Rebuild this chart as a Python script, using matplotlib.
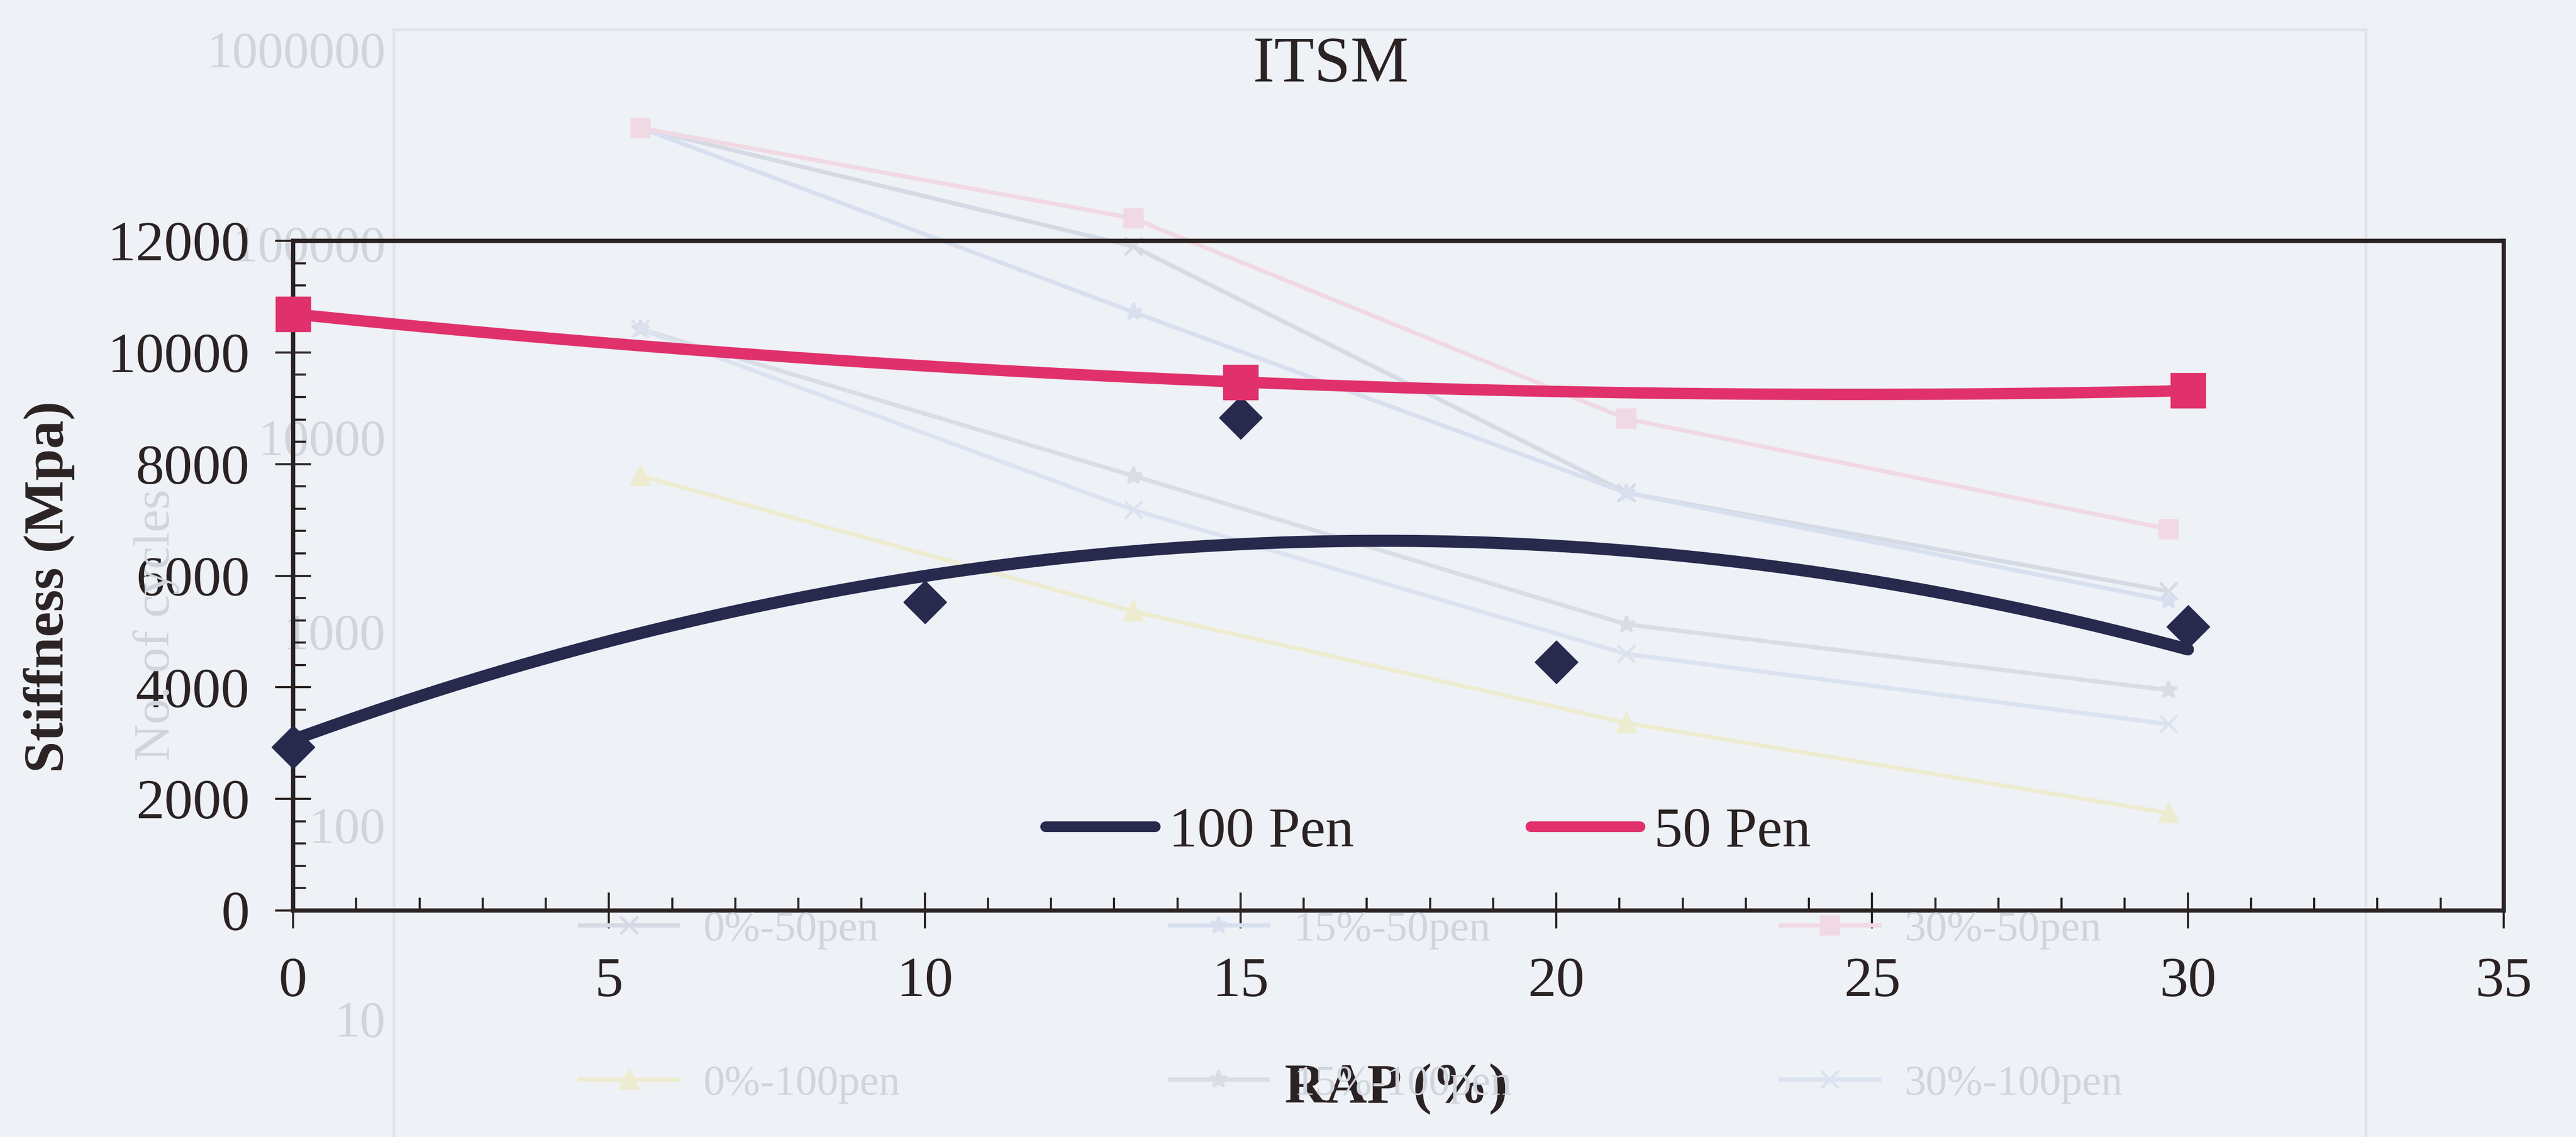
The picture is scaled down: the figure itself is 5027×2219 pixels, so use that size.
import numpy as np
import matplotlib
matplotlib.use("Agg")
import matplotlib.pyplot as plt
from matplotlib.ticker import MultipleLocator, FixedLocator, FixedFormatter, NullLocator
from matplotlib.lines import Line2D

# ---- data: ITSM stiffness ---------------------------------------------
rap_100 = [0, 10, 15, 20, 30]                  # RAP content (%)
stiff_100 = [2930, 5530, 8830, 4450, 5090]     # stiffness, 100 pen binder (MPa)
rap_50 = [0, 15, 30]
stiff_50 = [10690, 9470, 9315]                 # stiffness, 50 pen binder (MPa)

x_ticks = [0, 5, 10, 15, 20, 25, 30, 35]
y_ticks = [0, 2000, 4000, 6000, 8000, 10000, 12000]
series_names = ["100 Pen", "50 Pen"]

# ---- data: faint fatigue chart showing through the page ----------------
fat_x = [5, 15, 25, 36]
fat_labels = ["0%-50pen", "0%-100pen", "15%-50pen", "15%-100pen",
              "30%-50pen", "30%-100pen"]
fat_0_50 = [392000, 96000, 5150, 1600]
fat_0_100 = [6300, 1260, 335, 115]
fat_15_50 = [392000, 44000, 5150, 1430]
fat_15_100 = [36000, 6300, 1080, 495]
fat_30_50 = [392000, 134000, 12400, 3350]
fat_30_100 = [36000, 4200, 760, 330]
fat_y_ticks = [10, 100, 1000, 10000, 100000, 1000000]
fat_y_labels = ["10", "100", "1000", "10000", "100000", "1000000"]

# ---- style ------------------------------------------------------------
SERIF = ["Liberation Serif", "DejaVu Serif"]
plt.rcParams["font.family"] = SERIF
INK = "#2b2323"
NAVY = "#272a4d"
PINK = "#e0316c"
GHOST = "#d0d4dc"
DPI = 100
W, H = 5027, 2219

fig = plt.figure(figsize=(W / DPI, H / DPI), dpi=DPI, facecolor="#eef1f6")

# faint chart underneath
axg = fig.add_axes([769 / W, 0, (4617 - 769) / W, (2219 - 58) / H], zorder=0)
axg.set_facecolor("none")
axg.set_yscale("log")
axg.set_ylim(10 ** 0.39, 10 ** 6.1)
axg.set_xlim(0, 40)
axg.yaxis.set_major_locator(FixedLocator(fat_y_ticks))
axg.yaxis.set_major_formatter(FixedFormatter(fat_y_labels))
axg.yaxis.set_minor_locator(NullLocator())
axg.set_xticks([])
axg.tick_params(axis="y", length=0, pad=12, labelsize=72, labelcolor=GHOST)
for side in ("left", "top", "right"):
    axg.spines[side].set_color("#e0e3ea")
    axg.spines[side].set_linewidth(4)
axg.spines["bottom"].set_visible(False)

ghost_styles = [
    (fat_0_50, "#d5dae4", "x"),
    (fat_0_100, "#eeecd0", "^"),
    (fat_15_50, "#d8e0f0", "*"),
    (fat_15_100, "#d9dde5", "*"),
    (fat_30_50, "#f1d9e3", "s"),
    (fat_30_100, "#dce3f0", "x"),
]
ghost_handles = []
for vals, col, mk in ghost_styles:
    ln, = axg.plot(fat_x, vals, color=col, lw=6, marker=mk, ms=24,
                   mec=col, mfc=col, mew=4)
    ghost_handles.append(ln)
fig.legend(ghost_handles, fat_labels, loc="upper left",
           bbox_to_anchor=(1090 / W, 1 - 1735 / H), ncol=3, frameon=False,
           fontsize=60, handlelength=2.3, handletextpad=0.6,
           columnspacing=6.3, labelspacing=2.7, labelcolor=GHOST, borderpad=0)
fig.text(305 / W, 1 - 1220 / H, "No. of cycles", rotation=90, ha="center",
         va="center", fontsize=72, color=GHOST)

# ---- main chart ---------------------------------------------------------
ax = fig.add_axes([572 / W, 1 - 1777 / H, (4886 - 572) / W, (1777 - 470) / H],
                  zorder=2)
ax.set_facecolor("none")

# quadratic trend lines (least squares), as in a spreadsheet trendline
xs = np.linspace(0, 30, 300)
fit_100 = np.polyval(np.polyfit(rap_100, stiff_100, 2), xs)
fit_50 = np.polyval(np.polyfit(rap_50, stiff_50, 2), xs)

ax.plot(xs, fit_100, color=NAVY, lw=17, solid_capstyle="round", zorder=3)
ax.plot(xs, fit_50, color=PINK, lw=16, solid_capstyle="round", zorder=3)
ax.plot(rap_100, stiff_100, ls="none", marker="D", ms=43, color=NAVY,
        mec=NAVY, zorder=4, clip_on=False)
ax.plot(rap_50, stiff_50, ls="none", marker="s", ms=49, color=PINK,
        mec=PINK, zorder=4, clip_on=False)

ax.set_xlim(0, 35)
ax.set_ylim(0, 12000)
ax.set_xticks(x_ticks)
ax.set_yticks(y_ticks)
ax.xaxis.set_minor_locator(MultipleLocator(1))
ax.yaxis.set_minor_locator(MultipleLocator(400))

for s in ax.spines.values():
    s.set_color(INK)
    s.set_linewidth(6)

ax.tick_params(which="major", direction="inout", length=50, width=3,
               color=INK, labelsize=80, labelcolor=INK)
ax.tick_params(axis="x", which="major", pad=40)
ax.tick_params(axis="y", which="major", pad=36)
ax.tick_params(which="minor", direction="in", length=18, width=3, color=INK)
ax.tick_params(top=False, right=False, which="both")

# titles
fig.text(2597 / W, 1 - 128 / H, "ITSM", ha="center", va="center",
         fontsize=92, color=INK)
fig.text(96 / W, 1 - 1145 / H, "Stiffness (Mpa)", ha="center", va="center",
         rotation=90, fontsize=80, fontweight="bold", color=INK)
fig.text(2725 / W, 1 - 2126 / H, "RAP (%)", ha="center", va="center",
         fontsize=80, fontweight="bold", color=INK)

# legend
handles = [Line2D([], [], color=NAVY, lw=15, solid_capstyle="round"),
           Line2D([], [], color=PINK, lw=15, solid_capstyle="round")]
fig.legend(handles, series_names, loc="center",
           bbox_to_anchor=(2787 / W, 1 - 1625 / H), ncol=2, frameon=False,
           fontsize=80, handlelength=1.92, handletextpad=0.25,
           columnspacing=3.1, borderpad=0, labelcolor=INK)

fig.savefig("out.png", dpi=DPI, facecolor=fig.get_facecolor())
